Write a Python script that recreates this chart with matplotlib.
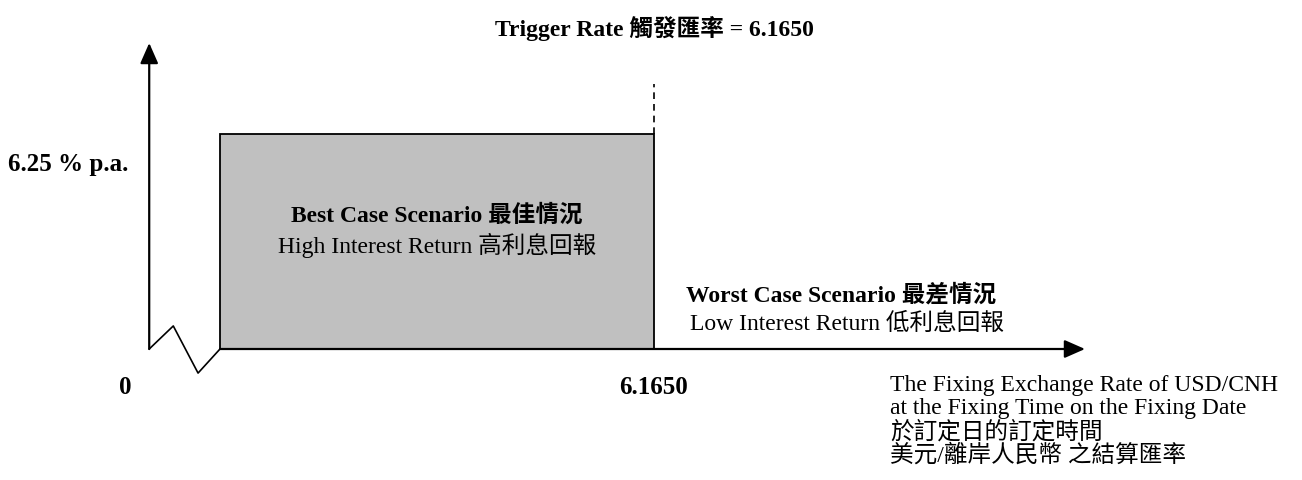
"""
Payoff diagram: interest return vs. fixing exchange rate (USD/CNH).
Saves out.png (1302x481).
"""

import matplotlib
matplotlib.use("Agg")
import matplotlib.pyplot as plt
from matplotlib.patches import Rectangle

plt.rcParams["font.family"] = ["Liberation Serif", "Noto Sans CJK TC", "DejaVu Sans"]

# ---------------------------------------------------------------------------
# Data
# ---------------------------------------------------------------------------

TRIGGER_RATE = 6.1650          # 觸發匯率
COUPON = 6.25                  # % p.a.
ORIGIN_LABEL = "0"
TRIGGER_LABEL = f"{TRIGGER_RATE:.4f}"
COUPON_LABEL = f"{COUPON:.2f} % p.a."

TITLE = f"Trigger Rate 觸發匯率 = {TRIGGER_RATE:.4f}"
BEST_CASE = ["Best Case Scenario 最佳情況", "High Interest Return 高利息回報"]
WORST_CASE = ["Worst Case Scenario 最差情況", "Low Interest Return 低利息回報"]
X_CAPTION = [
    "The Fixing Exchange Rate of USD/CNH",
    "at the Fixing Time on the Fixing Date",
    "於訂定日的訂定時間",
    "美元/離岸人民幣 之結算匯率",
]

# schematic x-axis (broken between origin and the start of the box)
BREAK_END = 5.0
BREAK_WIDTH = 0.19
ZIGZAG_FRAC_X = [0.0, 0.34, 0.69, 1.0]
ZIGZAG_Y = [0.0, 0.67, -0.70, 0.0]

# ---------------------------------------------------------------------------
# Layout (pixels of the 1302x481 canvas)
# ---------------------------------------------------------------------------

W, H, DPI = 1302, 481, 100
BOX_LEFT_PX, TRIGGER_PX = 220, 654
ZERO_PX, COUPON_PX = 350, 135
FS = 17
FS_AXIS = 18
GREY = "#c0c0c0"

px_per_x = (TRIGGER_PX - BOX_LEFT_PX) / (TRIGGER_RATE - BREAK_END)
px_per_y = (ZERO_PX - COUPON_PX) / COUPON


def xv(px):
    return BREAK_END + (px - BOX_LEFT_PX) / px_per_x


def yv(py):
    return (ZERO_PX - py) / px_per_y


fig = plt.figure(figsize=(W / DPI, H / DPI), dpi=DPI)
ax = fig.add_axes([0, 0, 1, 1])
ax.set_xlim(xv(0), xv(W))
ax.set_ylim(yv(H), yv(0))
ax.axis("off")

origin_x = BREAK_END - BREAK_WIDTH
axis_end_x = xv(1085)
y_top = yv(44)

# shaded best-case region
ax.add_patch(Rectangle((BREAK_END, 0), TRIGGER_RATE - BREAK_END, COUPON,
                       facecolor=GREY, edgecolor="black", lw=1.3, zorder=2))

# trigger level, dashed above the box
ax.plot([TRIGGER_RATE, TRIGGER_RATE], [COUPON, yv(85)], color="black",
        lw=1.2, ls=(0, (4, 3)), zorder=3)

# axis break
ax.plot([origin_x + f * BREAK_WIDTH for f in ZIGZAG_FRAC_X], ZIGZAG_Y,
        color="black", lw=1.2, zorder=3)

arrow = dict(arrowstyle="-|>,head_length=1.25,head_width=0.55", color="black",
             lw=1.6, shrinkA=0, shrinkB=0, mutation_scale=10)
ax.annotate("", xy=(origin_x, y_top), xytext=(origin_x, 0), arrowprops=arrow)
ax.annotate("", xy=(axis_end_x, 0), xytext=(BREAK_END, 0), arrowprops=arrow)

# texts
ax.text(TRIGGER_RATE, yv(28), TITLE, fontsize=FS, fontweight="bold",
        ha="center", va="center")
ax.text(xv(8), yv(165), COUPON_LABEL, fontsize=FS_AXIS, fontweight="bold",
        ha="left", va="center")
ax.text(xv(125), yv(388), ORIGIN_LABEL, fontsize=FS_AXIS, fontweight="bold",
        ha="center", va="center")
ax.text(TRIGGER_RATE, yv(388), TRIGGER_LABEL, fontsize=FS_AXIS, fontweight="bold",
        ha="center", va="center")

box_mid = (BREAK_END + TRIGGER_RATE) / 2
ax.text(box_mid, yv(216), BEST_CASE[0], fontsize=FS, fontweight="bold",
        ha="center", va="center", zorder=4)
ax.text(box_mid, yv(245), BEST_CASE[1], fontsize=FS,
        ha="center", va="center", zorder=4)

ax.text(xv(686), yv(295), WORST_CASE[0], fontsize=FS, fontweight="bold",
        ha="left", va="center")
ax.text(xv(690), yv(324), WORST_CASE[1], fontsize=FS,
        ha="left", va="center")

for i, line in enumerate(X_CAPTION):
    ax.text(xv(890), yv(386 + 23 * i), line, fontsize=FS,
            ha="left", va="center")

fig.savefig("out.png", dpi=DPI)
plt.close(fig)
